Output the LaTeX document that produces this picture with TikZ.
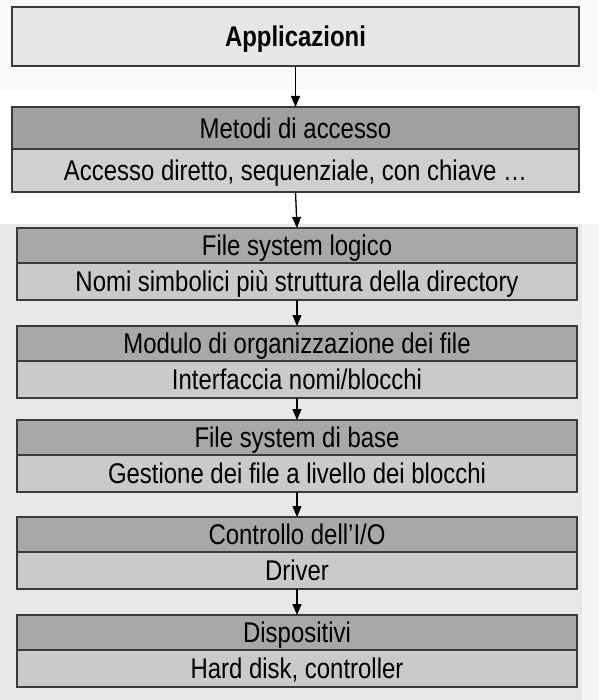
\documentclass[tikz,border=0pt]{standalone}
\usepackage{fontspec}
\setmainfont{Liberation Sans}[FakeStretch=0.84]
\usetikzlibrary{positioning,arrows.meta}

\definecolor{pagebg}{HTML}{FAFAFA}
\definecolor{scanbg}{HTML}{E8E8E8}
\definecolor{scanedge}{HTML}{F5F5F5}
\definecolor{edgegray}{HTML}{3A3A3A}
\definecolor{appfill}{HTML}{E6E6E6}
\definecolor{darkhead}{HTML}{A0A0A0}
\definecolor{lightbody}{HTML}{D0D0D0}
\definecolor{headgray}{HTML}{A8A8A8}
\definecolor{bodygray}{HTML}{CACACA}

\tikzset{
  layer/.style={draw=edgegray, line width=1.8pt, minimum width=560pt,
    inner sep=0pt, outer sep=0pt, text height=20.4pt, text depth=0pt,
    font=\fontsize{28.5}{32}\selectfont},
  head/.style={layer, fill=headgray, minimum height=35pt},
  body/.style={layer, fill=bodygray, minimum height=37pt},
  down/.style={-{Triangle[length=11pt,width=9pt]}, line width=1.3pt, draw=black},
}

\begin{document}
\begin{tikzpicture}[x=1pt, y=-1pt]
  \useasboundingbox (0,0) rectangle (599,700);

  % Background: light page on top, scanned page below
  \fill[pagebg] (0,0) rectangle (598,90);
  \fill[scanbg] (0,224) rectangle (582,700);
  \fill[scanedge] (582,224) rectangle (599,700);

  % Top part
  \node[layer, fill=appfill, minimum width=567pt, minimum height=59pt,
        font=\fontsize{28.5}{32}\selectfont\bfseries] (app) at (295.5,36.5) {Applicazioni};
  \node[layer, fill=darkhead, minimum width=567pt, minimum height=42pt] (metodi) at (295.5,128) {Metodi di accesso};
  \node[layer, fill=lightbody, minimum width=567pt, minimum height=43pt, below=0pt of metodi] (accesso) {Accesso diretto, sequenziale, con chiave …};

  % Layers of the file system
  \node[head] (logico) at (297,245.5) {File system logico};
  \node[body, below=0pt of logico] (nomi) {Nomi simbolici più struttura della directory};

  \node[head] (modulo) at (297,343.5) {Modulo di organizzazione dei file};
  \node[body, below=0pt of modulo] (interf) {Interfaccia nomi/blocchi};

  \node[head] (base) at (297,437.5) {File system di base};
  \node[body, below=0pt of base] (gestione) {Gestione dei file a livello dei blocchi};

  \node[head] (controllo) at (297,534.5) {Controllo dell’I/O};
  \node[body, below=0pt of controllo] (driver) {Driver};

  \node[head] (disp) at (297,632.5) {Dispositivi};
  \node[body, below=0pt of disp] (hw) {Hard disk, controller};

  % Arrows between layers
  \foreach \a/\b in {app/metodi, accesso/logico, nomi/modulo, interf/base, gestione/controllo, driver/disp}
    \draw[down] (\a.south) -- (\b.north);

\end{tikzpicture}
\end{document}
